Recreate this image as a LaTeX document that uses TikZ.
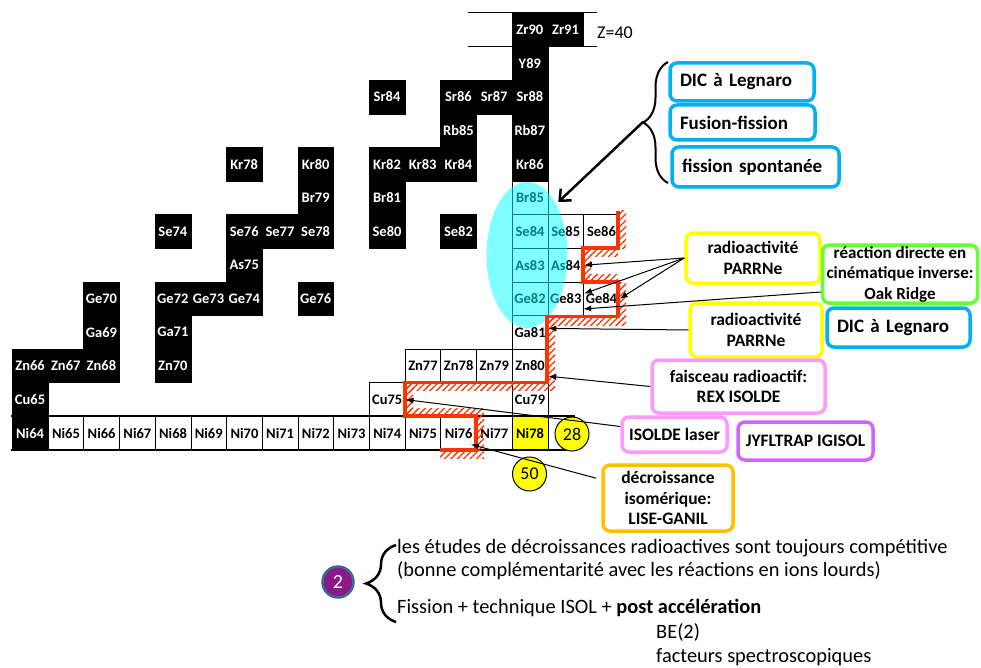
\documentclass[tikz,border=0pt]{standalone}
\usepackage{fontspec}
\setmainfont{Carlito}
\usetikzlibrary{shapes.geometric,decorations.pathreplacing,patterns.meta,arrows.meta,calc}
\definecolor{hred}{HTML}{FF3300}
\definecolor{cblue}{HTML}{00B0F0}
\definecolor{cyel}{HTML}{FFFF00}
\definecolor{cgreen}{HTML}{66FF33}
\definecolor{cpink}{HTML}{FF99FF}
\definecolor{cpurp}{HTML}{CC66FF}
\definecolor{corange}{HTML}{FFC000}
\definecolor{circpurp}{HTML}{8B1A89}
\definecolor{circedge}{HTML}{3D6A8E}
\definecolor{aqua}{HTML}{00FFFF}
\begin{document}
\begin{tikzpicture}[x=1pt,y=-1pt,
  cellbase/.style={minimum width=35.7pt, minimum height=33.6pt, inner sep=0pt, anchor=north west, font=\fontsize{14.5}{16}\selectfont\bfseries},
  stab/.style={cellbase, fill=black, draw=black, text=white},
  unst/.style={cellbase, fill=white, draw=black, line width=0.8pt},
  rbox/.style={draw=#1, line width=3.5pt, rounded corners=7pt, fill=white, align=center, inner sep=0pt, font=\fontsize{17.5}{20.5}\selectfont\bfseries},
  bluebox/.style={rbox=cblue, align=left, font=\fontsize{19}{21}\selectfont\bfseries},
  magic/.style={circle, draw=black, fill=cyel, minimum size=34pt, inner sep=0pt, line width=1pt, font=\fontsize{18}{20}\selectfont},
  arr/.style={line width=1pt, -{Latex[length=8pt,width=6pt]}},
  hatch/.style={pattern={Lines[angle=45,distance=4.5pt,line width=1.3pt]}, pattern color=hred},
  bodytext/.style={anchor=west, inner sep=0pt, font=\fontsize{20.4}{23}\selectfont}
]
\useasboundingbox (0,0) rectangle (981,668);
% stable nuclei
\foreach \nm/\N/\Z in {Ni64/36/28, Cu65/36/29, Zn66/36/30, Zn67/37/30, Zn68/38/30, Zn70/40/30,
  Ga69/38/31, Ga71/40/31, Ge70/38/32, Ge72/40/32, Ge73/41/32, Ge74/42/32, Ge76/44/32,
  As75/42/33, Se74/40/34, Se76/42/34, Se77/43/34, Se78/44/34, Se80/46/34, Se82/48/34,
  Br79/44/35, Br81/46/35, Kr78/42/36, Kr80/44/36, Kr82/46/36, Kr83/47/36, Kr84/48/36, Kr86/50/36,
  Rb85/48/37, Rb87/50/37, Sr84/46/38, Sr86/48/38, Sr87/49/38, Sr88/50/38, Y89/50/39, Zr90/50/40, Zr91/51/40}
  {\node[stab] (\nm) at ({12+(\N-36)*35.7},{416-(\Z-28)*33.6}) {\nm};}
% unstable nuclei
\foreach \nm/\N/\Z in {Ni65/37/28, Ni66/38/28, Ni67/39/28, Ni68/40/28, Ni69/41/28, Ni70/42/28, Ni71/43/28,
  Ni72/44/28, Ni73/45/28, Ni74/46/28, Ni75/47/28, Ni76/48/28, Ni77/49/28,
  Cu75/46/29, Cu79/50/29, Zn77/47/30, Zn78/48/30, Zn79/49/30, Zn80/50/30, Ga81/50/31,
  Ge82/50/32, Ge83/51/32, Ge84/52/32, As83/50/33, As84/51/33, Se84/50/34, Se85/51/34, Se86/52/34, Br85/50/35}
  {\node[unst] (\nm) at ({12+(\N-36)*35.7},{416-(\Z-28)*33.6}) {\nm};}
\node[unst, fill=cyel] (Ni78) at ({12+14*35.7},416) {Ni78};
% Z=40 lines
\draw[line width=1pt] (468,12.8) -- (597,12.8);
\draw[line width=1pt] (468,46.4) -- (597,46.4);
\node[anchor=west, inner sep=0pt, font=\fontsize{18}{20}\selectfont] (z40) at (597,33) {Z=40};
% ellipse
\node[ellipse, fill=aqua, fill opacity=0.5, minimum width=81pt, minimum height=146pt, inner sep=0pt] (ell) at (527,255) {};
% Ni row thick lines
\draw[line width=2.5pt] (11,416) -- (575,416);
\draw[line width=2.5pt] (11,450) -- (575,450);
% hatches
\fill[hatch] (618,211) rectangle (626,248);
\fill[hatch] (583,248) rectangle (618,256);
\fill[hatch] (583,248) rectangle (591,282);
\fill[hatch] (583,274) rectangle (618,282);
\fill[hatch] (618,282) rectangle (626,317);
\fill[hatch] (547,317) rectangle (626,325);
\fill[hatch] (547,317) rectangle (555,382);
\fill[hatch] (405,382) rectangle (555,390);
\fill[hatch] (405,382) rectangle (413,416);
\fill[hatch] (405,408) rectangle (476,416);
\fill[hatch] (476,408) rectangle (484,450);
\fill[hatch] (440,450) rectangle (484,458);
% red boundary
\draw[hred, line width=3.5pt] (618,211) -- (618,248) -- (583,248) -- (583,282) -- (618,282) -- (618,316.6)
  -- (547,316.6) -- (547,382.4) -- (404.8,382.4) -- (404.8,416) -- (476,416) -- (476,450) -- (440,450);
% magic numbers
\node[magic] (m28) at (572,434) {28};
\node[magic] (m50) at (529.5,474) {50};
% boxes
\node[bluebox, minimum width=144pt, minimum height=38pt, text width=124pt] (dic1) at (742,82) {DIC à Legnaro};
\node[bluebox, minimum width=145pt, minimum height=35pt, text width=125pt] (fus) at (742.5,122.5) {Fusion-fission};
\node[bluebox, minimum width=167pt, minimum height=40pt, text width=147pt] (spont) at (755.5,167) {fission spontanée};
\node[rbox=cyel, minimum width=134pt, minimum height=50pt] (parr1) at (753,258) {radioactivité\\PARRNe};
\node[rbox=cgreen, minimum width=155pt, minimum height=58pt, font=\fontsize{17}{20.5}\selectfont\bfseries] (oak) at (900,274) {réaction directe en\\cinématique inverse:\\Oak Ridge};
\node[rbox=cyel, minimum width=132pt, minimum height=54pt] (parr2) at (756,330) {radioactivité\\PARRNe};
\node[bluebox, minimum width=143pt, minimum height=39pt, text width=123pt] (dic2) at (898.5,327.5) {DIC à Legnaro};
\node[rbox=cpink, minimum width=173pt, minimum height=53pt] (rex) at (738.5,386.5) {faisceau radioactif:\\REX ISOLDE};
\node[rbox=cpink, minimum width=105pt, minimum height=35pt] (laser) at (674.5,434.5) {ISOLDE laser};
\node[rbox=cpurp, minimum width=135pt, minimum height=38pt] (jyfl) at (805.5,441) {JYFLTRAP IGISOL};
\node[rbox=corange, minimum width=130pt, minimum height=66pt] (lise) at (668,498) {décroissance\\isomérique:\\LISE-GANIL};
% arrows
\draw[arr] (parr1.west) -- (As84.east);
\draw[arr] (parr1.west) -- ($(Ge83.north east)+(0,12)$);
\draw[arr] (parr1.west) -- (Ge84.east);
\draw[arr] ($(oak.west)+(0,18)$) -- ($(Ge84.south west)+(0,-7)$);
\draw[arr] (parr2.west) -- ($(Ga81.east)+(0,-4)$);
\draw[arr] (rex.west) -- ($(Zn80.south east)+(0,-7)$);
\draw[arr] ($(laser.west)+(0,-8)$) -- (Cu75.east);
\draw[arr] ($(lise.north west)+(-5,15)$) -- ($(Ni76.south east)+(-6,-6)$);
% top brace
\draw[line width=2pt, decorate, decoration={brace, amplitude=25pt}] (668,183) -- (668,62);
\coordinate (btip) at (643,122);
\draw[line width=2.5pt, -{Straight Barb[length=9pt,width=16pt]}] (btip) -- ($(Br85.east)+(10,4)$);
% bottom
\node[circle, fill=circpurp, draw=circedge, line width=2.5pt, minimum size=31pt, inner sep=0pt, text=white, font=\fontsize{20}{22}\selectfont] (two) at (338,582) {2};
\draw[line width=2.5pt, decorate, decoration={brace, amplitude=30pt}] (396,622) -- (396,545);
\node[bodytext] (t1) at (397,548) {les études de décroissances radioactives sont toujours compétitive};
\node[bodytext] (t2) at (397,571) {(bonne complémentarité avec les réactions en ions lourds)};
\node[bodytext] (t3) at (397,608) {Fission + technique ISOL + \textbf{post accélération}};
\node[bodytext] (t4) at (656,632) {BE(2)};
\node[bodytext] (t5) at (656,657) {facteurs spectroscopiques};
\end{tikzpicture}
\end{document}
